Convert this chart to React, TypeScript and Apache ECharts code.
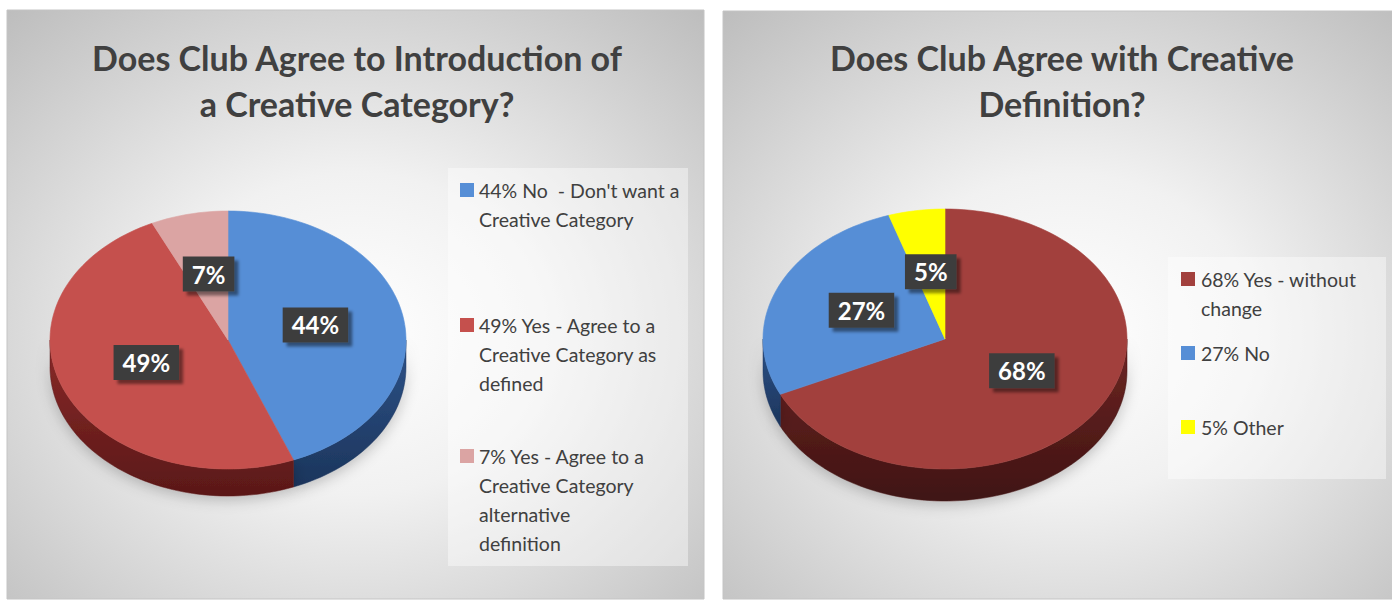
import React, { useEffect, useRef } from 'react';
import * as echarts from 'echarts';

// ---------- data ----------
const leftTitle = ['Does Club Agree to Introduction of', 'a Creative Category?'];
const leftNames = [
  "No  - Don't want a Creative Category",
  'Yes - Agree to a Creative Category as defined',
  'Yes - Agree to a Creative Category alternative definition',
];
const leftValues = [44, 49, 7];
const leftLegendLines = [
  ["44% No  - Don't want a", 'Creative Category'],
  ['49% Yes - Agree to a', 'Creative Category as', 'defined'],
  ['7% Yes - Agree to a', 'Creative Category', 'alternative', 'definition'],
];

const rightTitle = ['Does Club Agree with Creative', 'Definition?'];
const rightNames = ['Yes - without change', 'No', 'Other'];
const rightValues = [68, 27, 5];
const rightLegendLines = [['68% Yes - without', 'change'], ['27% No'], ['5% Other']];

// ---------- styles ----------
const leftTop = ['#568ED6', '#C5504D', '#DBA4A3'];
const leftWall = [
  ['#2d5288', '#1c355c'],
  ['#8a2a28', '#5a1818'],
  ['#a06c6b', '#7a4f4e'],
];
const rightTop = ['#A2403D', '#568ED6', '#FFFF00'];
const rightWall = [
  ['#6e2624', '#3f1312'],
  ['#2d5288', '#1c355c'],
  ['#b0b000', '#888800'],
];

const FONT = 'Lato, "Open Sans", sans-serif';

type PieGeom = { cx: number; cy: number; rx: number; ry: number; depth: number };

function pieSeries(
  name: string,
  names: string[],
  values: number[],
  tops: string[],
  walls: string[][],
  g: PieGeom
) {
  const total = values.reduce((a, b) => a + b, 0);
  const pt = (a: number, dy = 0) => [g.cx + g.rx * Math.sin(a), g.cy - g.ry * Math.cos(a) + dy];
  const arc = (a0: number, a1: number, dy = 0) => {
    const n = Math.max(2, Math.ceil(((a1 - a0) * 180) / Math.PI / 2));
    const out: number[][] = [];
    for (let k = 0; k <= n; k++) out.push(pt(a0 + ((a1 - a0) * k) / n, dy));
    return out;
  };
  return {
    type: 'custom',
    name,
    coordinateSystem: 'none',
    data: values.map((v, i) => ({ value: v, name: names[i] })),
    renderItem: (params: any, api: any) => {
      const i = params.dataIndex;
      const v = api.value(0);
      let before = 0;
      for (let k = 0; k < i; k++) before += values[k];
      const a0 = (before / total) * Math.PI * 2;
      const a1 = ((before + v) / total) * Math.PI * 2;
      const children: any[] = [];
      const ws = Math.max(a0, Math.PI / 2);
      const we = Math.min(a1, (Math.PI * 3) / 2);
      if (we > ws) {
        const topEdge = arc(ws, we);
        const botEdge = arc(ws, we, g.depth).reverse();
        children.push({
          type: 'polygon',
          z2: 1,
          shape: { points: topEdge.concat(botEdge) },
          style: {
            fill: {
              type: 'linear', x: 0, y: 0, x2: 0, y2: 1,
              colorStops: [
                { offset: 0, color: walls[i][0] },
                { offset: 1, color: walls[i][1] },
              ],
            },
            stroke: walls[i][1],
            lineWidth: 0.5,
            shadowBlur: 14,
            shadowColor: 'rgba(0,0,0,0.22)',
            shadowOffsetY: 4,
          },
        });
      }
      children.push({
        type: 'polygon',
        z2: 5,
        shape: { points: [[g.cx, g.cy]].concat(arc(a0, a1)) },
        style: { fill: tops[i], stroke: tops[i], lineWidth: 0.6 },
      });
      const mid = (a0 + a1) / 2;
      const lp = pt(mid);
      children.push({
        type: 'text',
        z2: 10,
        x: g.cx + (lp[0] - g.cx) * 0.5,
        y: g.cy + (lp[1] - g.cy) * 0.5 - 3,
        style: {
          text: `${v}%`,
          fill: '#ffffff',
          font: `bold 24px ${FONT}`,
          align: 'center',
          verticalAlign: 'middle',
          backgroundColor: '#3d3d3d',
          padding: [6, 9, 5, 9],
          shadowColor: 'rgba(0,0,0,0.45)',
          shadowBlur: 3,
          shadowOffsetX: 4,
          shadowOffsetY: 4,
        },
      });
      return { type: 'group', children };
    },
  };
}

function panel(x: number, y: number, w: number, h: number) {
  return {
    type: 'rect',
    z: -10,
    shape: { x, y, width: w, height: h },
    style: {
      fill: {
        type: 'radial', x: 0.5, y: 0.55, r: 0.78,
        colorStops: [
          { offset: 0, color: '#ffffff' },
          { offset: 0.35, color: '#f1f1f1' },
          { offset: 1, color: '#b9b9b9' },
        ],
      },
      stroke: '#c4c4c4',
      lineWidth: 1,
    },
  };
}

function title(lines: string[], cx: number) {
  return {
    type: 'text',
    z: 5,
    x: cx,
    y: 57 - 23,
    style: {
      text: lines.join('\n'),
      font: `bold 34px ${FONT}`,
      fill: '#404040',
      align: 'center',
      verticalAlign: 'top',
      lineHeight: 46,
    },
  };
}

function legend(
  box: [number, number, number, number],
  markerX: number,
  textX: number,
  firstY: number[],
  lines: string[][],
  colors: string[]
) {
  const els: any[] = [
    {
      type: 'rect',
      z: 1,
      shape: { x: box[0], y: box[1], width: box[2], height: box[3] },
      style: { fill: 'rgba(255,255,255,0.42)' },
    },
  ];
  lines.forEach((ls, i) => {
    els.push({
      type: 'rect',
      z: 2,
      shape: { x: markerX, y: firstY[i] - 7, width: 14, height: 14 },
      style: { fill: colors[i] },
    });
    els.push({
      type: 'text',
      z: 2,
      x: textX,
      y: firstY[i] - 14.5,
      style: {
        text: ls.join('\n'),
        font: `19.5px ${FONT}`,
        fill: '#404040',
        align: 'left',
        verticalAlign: 'top',
        lineHeight: 29,
      },
    });
  });
  return els;
}

export default function App() {
  const ref = useRef<HTMLDivElement>(null);
  useEffect(() => {
    if (!ref.current) return;
    const chart = echarts.init(ref.current, undefined, { renderer: 'svg' });
    chart.setOption({
      animation: false,
      backgroundColor: '#ffffff',
      graphic: {
        elements: [
          panel(7, 10, 697, 589),
          panel(723, 11, 690, 588),
          title(leftTitle, 357),
          title(rightTitle, 1062),
          ...legend([448, 168, 240, 398], 460, 479, [190, 325, 456], leftLegendLines, leftTop),
          ...legend([1168, 257, 218, 222], 1181, 1201, [279, 353, 427], rightLegendLines, rightTop),
        ],
      },
      series: [
        pieSeries('Introduction of a Creative Category', leftNames, leftValues, leftTop, leftWall, {
          cx: 228, cy: 340, rx: 178, ry: 129, depth: 27,
        }),
        pieSeries('Agree with Creative Definition', rightNames, rightValues, rightTop, rightWall, {
          cx: 945, cy: 339, rx: 182, ry: 130, depth: 32,
        }),
      ],
    });
    return () => chart.dispose();
  }, []);
  return (
    <div
      ref={ref}
      style={{ position: 'absolute', left: 0, top: 0, width: 1392, height: 601 }}
    />
  );
}
